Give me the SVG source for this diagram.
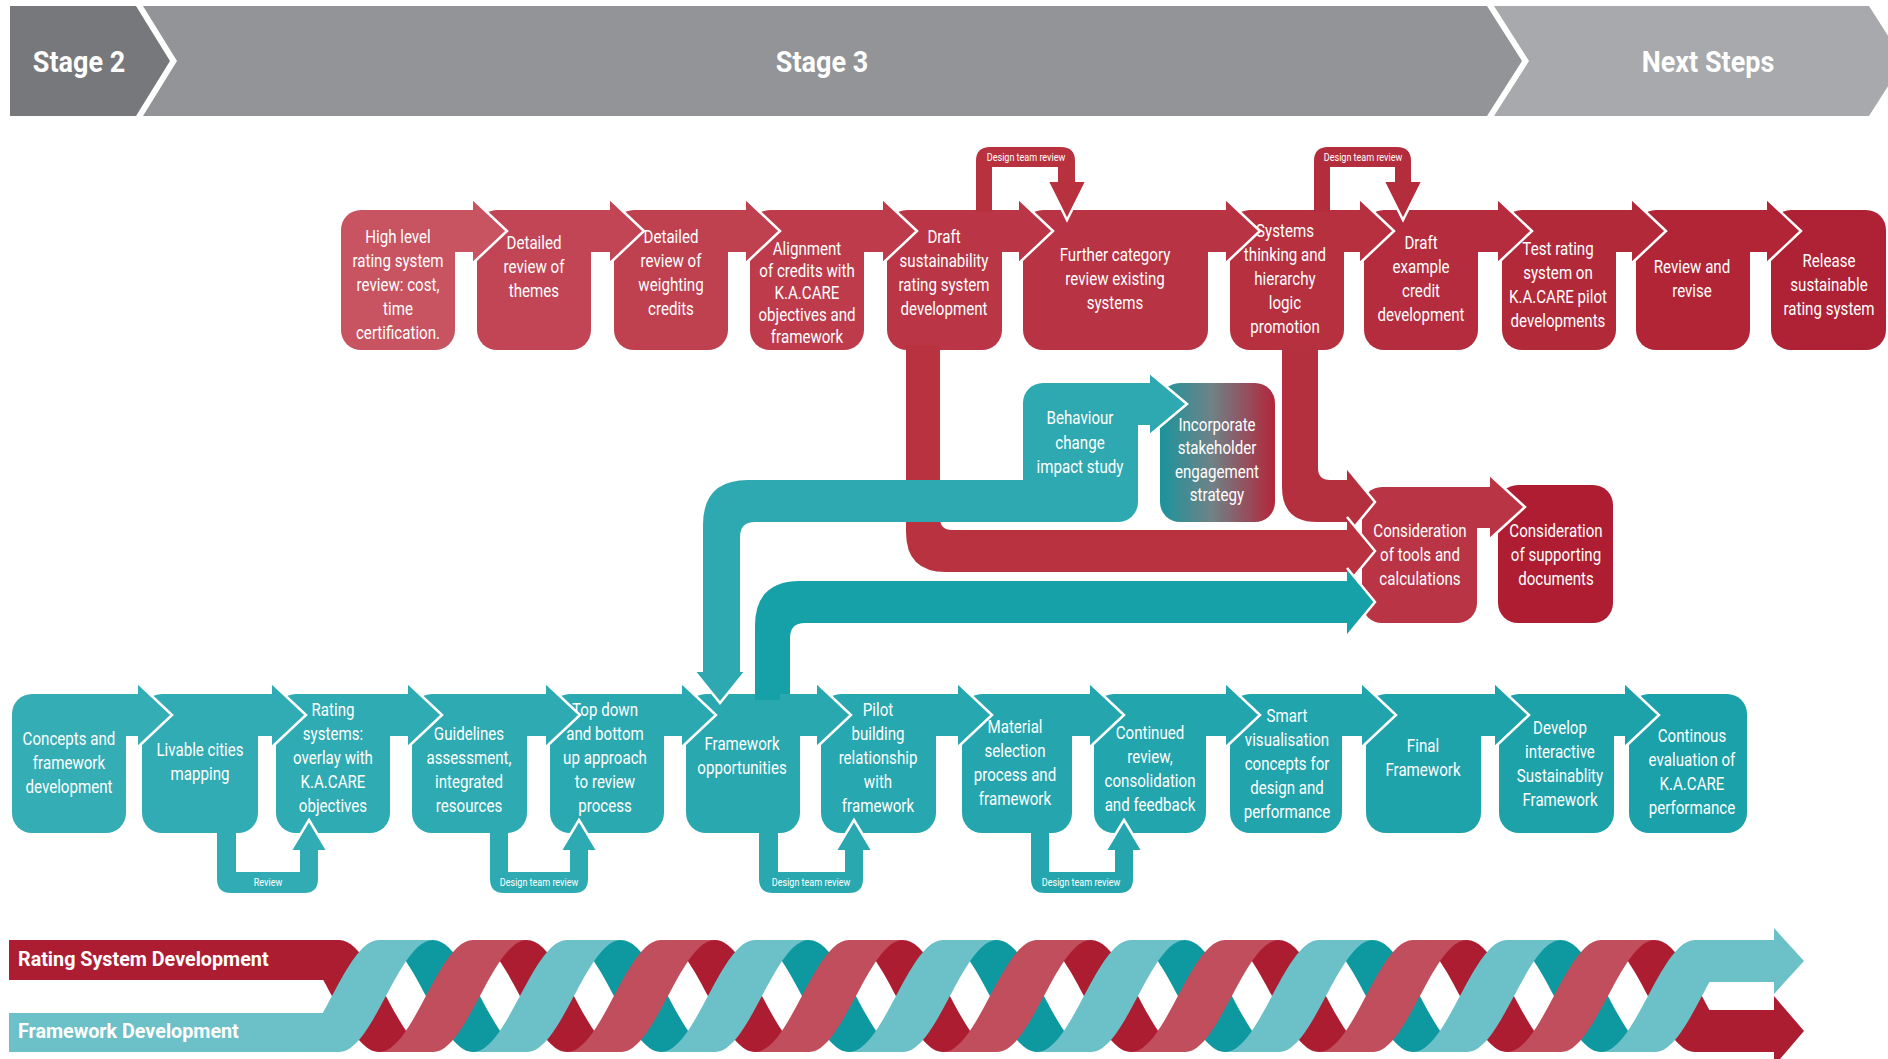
<svg xmlns="http://www.w3.org/2000/svg" width="1888" height="1059" viewBox="0 0 1888 1059">
<defs>
<style>
.t{font-family:Roboto,"Liberation Sans",Arial,sans-serif;font-size:18px;fill:#fff;text-anchor:middle}
.h{font-family:Roboto,"Liberation Sans",Arial,sans-serif;font-weight:700;font-size:30px;fill:#fff;text-anchor:middle}
.sm{font-family:Roboto,"Liberation Sans",Arial,sans-serif;font-size:10.5px;fill:#fff;text-anchor:middle}
.lg{font-family:Roboto,"Liberation Sans",Arial,sans-serif;font-weight:700;font-size:21px;fill:#fff}
.ch{fill:none;stroke:#fff;stroke-width:2.5;stroke-linejoin:miter}
.dt{fill:#0e99a1}.dr{fill:#ad1d31}.lt{fill:#6cc1c8}.pk{fill:#c14e5c}
</style>
<linearGradient id="grad-inc" x1="0" y1="0" x2="1" y2="0">
<stop offset="0" stop-color="#1a949c"/>
<stop offset="0.45" stop-color="#6f8288"/>
<stop offset="1" stop-color="#b3263a"/>
</linearGradient>
<!-- helix ribbon halves (half period 94, ribbon width 54): front rises to the right, back falls to the right -->
<path id="fs" d="M0,1052 C34.2,1052 59.8,940 94,940 H148 C113.8,940 88.2,1052 54,1052 Z"/>
<path id="bs" d="M0,940 C34.2,940 59.8,1052 94,1052 H148 C113.8,1052 88.2,940 54,940 Z"/>
</defs>

<rect width="1888" height="1059" fill="#fff"/>

<!-- stage header -->
<g id="header">
<polygon points="10,6 136,6 170,61 136,116 10,116" fill="#77787b"/>
<polygon points="143,6 1487,6 1522,61 1487,116 143,116 177,61" fill="#929497"/>
<polygon points="1494,6 1869,6 1904,61 1869,116 1494,116 1529,61" fill="#a7a9ac"/>
<text class="h" transform="translate(79 0) scale(.9 1)" x="0" y="72">Stage 2</text>
<text class="h" transform="translate(822 0) scale(.9 1)" x="0" y="72">Stage 3</text>
<text class="h" transform="translate(1708 0) scale(.9 1)" x="0" y="72">Next Steps</text>
</g>

<!-- rating system row -->
<g id="r1"><rect x="341" y="210" width="114" height="140" rx="20" fill="#c85361"/>
<text class="t" transform="translate(398 0) scale(.84 1)"><tspan x="0" y="243">High level</tspan><tspan x="0" y="267">rating system</tspan><tspan x="0" y="291">review: cost,</tspan><tspan x="0" y="315">time</tspan><tspan x="0" y="339">certification.</tspan></text></g>
<g id="r2"><rect x="477" y="210" width="114" height="140" rx="20" fill="#c24555"/>
<text class="t" transform="translate(534 0) scale(.84 1)"><tspan x="0" y="249">Detailed</tspan><tspan x="0" y="273">review of</tspan><tspan x="0" y="297">themes</tspan></text></g>
<g id="r3"><rect x="614" y="210" width="114" height="140" rx="20" fill="#bf404f"/>
<text class="t" transform="translate(671 0) scale(.84 1)"><tspan x="0" y="243">Detailed</tspan><tspan x="0" y="267">review of</tspan><tspan x="0" y="291">weighting</tspan><tspan x="0" y="315">credits</tspan></text></g>
<g id="r4"><rect x="750" y="210" width="114" height="140" rx="20" fill="#bd3b4b"/>
<text class="t" transform="translate(807 0) scale(.84 1)"><tspan x="0" y="255">Alignment</tspan><tspan x="0" y="277">of credits with</tspan><tspan x="0" y="299">K.A.CARE</tspan><tspan x="0" y="321">objectives and</tspan><tspan x="0" y="343">framework</tspan></text></g>
<g id="r5"><rect x="887" y="210" width="115" height="140" rx="20" fill="#ba3646"/>
<text class="t" transform="translate(944 0) scale(.84 1)"><tspan x="0" y="243">Draft</tspan><tspan x="0" y="267">sustainability</tspan><tspan x="0" y="291">rating system</tspan><tspan x="0" y="315">development</tspan></text></g>
<g id="r6"><rect x="1023" y="210" width="185" height="140" rx="20" fill="#b83343"/>
<text class="t" transform="translate(1115 0) scale(.84 1)"><tspan x="0" y="261">Further category</tspan><tspan x="0" y="285">review existing</tspan><tspan x="0" y="309">systems</tspan></text></g>
<g id="r7"><rect x="1230" y="210" width="114" height="140" rx="20" fill="#b63040"/>
<text class="t" transform="translate(1285 0) scale(.84 1)"><tspan x="0" y="237">Systems</tspan><tspan x="0" y="261">thinking and</tspan><tspan x="0" y="285">hierarchy</tspan><tspan x="0" y="309">logic</tspan><tspan x="0" y="333">promotion</tspan></text></g>
<g id="r8"><rect x="1364" y="210" width="114" height="140" rx="20" fill="#b42c3d"/>
<text class="t" transform="translate(1421 0) scale(.84 1)"><tspan x="0" y="249">Draft</tspan><tspan x="0" y="273">example</tspan><tspan x="0" y="297">credit</tspan><tspan x="0" y="321">development</tspan></text></g>
<g id="r9"><rect x="1502" y="210" width="114" height="140" rx="20" fill="#b2293a"/>
<text class="t" transform="translate(1558 0) scale(.84 1)"><tspan x="0" y="255">Test rating</tspan><tspan x="0" y="279">system on</tspan><tspan x="0" y="303">K.A.CARE pilot</tspan><tspan x="0" y="327">developments</tspan></text></g>
<g id="r10"><rect x="1636" y="210" width="114" height="140" rx="20" fill="#b12537"/>
<text class="t" transform="translate(1692 0) scale(.84 1)"><tspan x="0" y="273">Review and</tspan><tspan x="0" y="297">revise</tspan></text></g>
<g id="r11"><rect x="1771" y="210" width="115" height="140" rx="20" fill="#af2134"/>
<text class="t" transform="translate(1829 0) scale(.84 1)"><tspan x="0" y="267">Release</tspan><tspan x="0" y="291">sustainable</tspan><tspan x="0" y="315">rating system</tspan></text></g>

<!-- middle nodes -->
<g id="behaviour"><rect x="1023" y="383" width="115" height="139" rx="20" fill="#2ea9b1"/>
<text class="t" transform="translate(1080 0) scale(.84 1)"><tspan x="0" y="424">Behaviour</tspan><tspan x="0" y="449">change</tspan><tspan x="0" y="473">impact study</tspan></text></g>
<g id="incorporate"><rect x="1160" y="383" width="115" height="139" rx="20" fill="url(#grad-inc)"/>
<text class="t" transform="translate(1217 0) scale(.84 1)"><tspan x="0" y="431">Incorporate</tspan><tspan x="0" y="454">stakeholder</tspan><tspan x="0" y="478">engagement</tspan><tspan x="0" y="501">strategy</tspan></text></g>
<g id="tools"><rect x="1362" y="487" width="115" height="136" rx="20" fill="#b93545"/>
<text class="t" transform="translate(1420 0) scale(.84 1)"><tspan x="0" y="537">Consideration</tspan><tspan x="0" y="561">of tools and</tspan><tspan x="0" y="585">calculations</tspan></text></g>
<g id="supporting"><rect x="1498" y="485" width="115" height="138" rx="20" fill="#ae1d31"/>
<text class="t" transform="translate(1556 0) scale(.84 1)"><tspan x="0" y="537">Consideration</tspan><tspan x="0" y="561">of supporting</tspan><tspan x="0" y="585">documents</tspan></text></g>

<!-- framework row -->
<g id="f1"><rect x="12" y="694" width="114" height="139" rx="20" fill="#34adb5"/>
<text class="t" transform="translate(69 0) scale(.84 1)"><tspan x="0" y="745">Concepts and</tspan><tspan x="0" y="769">framework</tspan><tspan x="0" y="793">development</tspan></text></g>
<g id="f2"><rect x="142" y="694" width="116" height="139" rx="20" fill="#31acb4"/>
<text class="t" transform="translate(200 0) scale(.84 1)"><tspan x="0" y="756">Livable cities</tspan><tspan x="0" y="780">mapping</tspan></text></g>
<g id="f3"><rect x="276" y="694" width="114" height="139" rx="20" fill="#2fabb3"/>
<text class="t" transform="translate(333 0) scale(.84 1)"><tspan x="0" y="716">Rating</tspan><tspan x="0" y="740">systems:</tspan><tspan x="0" y="764">overlay with</tspan><tspan x="0" y="788">K.A.CARE</tspan><tspan x="0" y="812">objectives</tspan></text></g>
<g id="f4"><rect x="412" y="694" width="115" height="139" rx="20" fill="#2daab2"/>
<text class="t" transform="translate(469 0) scale(.84 1)"><tspan x="0" y="740">Guidelines</tspan><tspan x="0" y="764">assessment,</tspan><tspan x="0" y="788">integrated</tspan><tspan x="0" y="812">resources</tspan></text></g>
<g id="f5"><rect x="550" y="694" width="114" height="139" rx="20" fill="#2ba9b1"/>
<text class="t" transform="translate(605 0) scale(.84 1)"><tspan x="0" y="716">Top down</tspan><tspan x="0" y="740">and bottom</tspan><tspan x="0" y="764">up approach</tspan><tspan x="0" y="788">to review</tspan><tspan x="0" y="812">process</tspan></text></g>
<g id="f6"><rect x="686" y="694" width="114" height="139" rx="20" fill="#29a8b0"/>
<text class="t" transform="translate(742 0) scale(.84 1)"><tspan x="0" y="750">Framework</tspan><tspan x="0" y="774">opportunities</tspan></text></g>
<g id="f7"><rect x="821" y="694" width="115" height="139" rx="20" fill="#27a7af"/>
<text class="t" transform="translate(878 0) scale(.84 1)"><tspan x="0" y="716">Pilot</tspan><tspan x="0" y="740">building</tspan><tspan x="0" y="764">relationship</tspan><tspan x="0" y="788">with</tspan><tspan x="0" y="812">framework</tspan></text></g>
<g id="f8"><rect x="962" y="694" width="110" height="139" rx="20" fill="#25a6ae"/>
<text class="t" transform="translate(1015 0) scale(.84 1)"><tspan x="0" y="733">Material</tspan><tspan x="0" y="757">selection</tspan><tspan x="0" y="781">process and</tspan><tspan x="0" y="805">framework</tspan></text></g>
<g id="f9"><rect x="1094" y="694" width="112" height="139" rx="20" fill="#23a5ad"/>
<text class="t" transform="translate(1150 0) scale(.84 1)"><tspan x="0" y="739">Continued</tspan><tspan x="0" y="763">review,</tspan><tspan x="0" y="787">consolidation</tspan><tspan x="0" y="811">and feedback</tspan></text></g>
<g id="f10"><rect x="1230" y="694" width="112" height="139" rx="20" fill="#21a4ac"/>
<text class="t" transform="translate(1287 0) scale(.84 1)"><tspan x="0" y="722">Smart</tspan><tspan x="0" y="746">visualisation</tspan><tspan x="0" y="770">concepts for</tspan><tspan x="0" y="794">design and</tspan><tspan x="0" y="818">performance</tspan></text></g>
<g id="f11"><rect x="1366" y="694" width="115" height="139" rx="20" fill="#1fa3ab"/>
<text class="t" transform="translate(1423 0) scale(.84 1)"><tspan x="0" y="752">Final</tspan><tspan x="0" y="776">Framework</tspan></text></g>
<g id="f12"><rect x="1499" y="694" width="115" height="139" rx="20" fill="#1da2aa"/>
<text class="t" transform="translate(1560 0) scale(.84 1)"><tspan x="0" y="734">Develop</tspan><tspan x="0" y="758">interactive</tspan><tspan x="0" y="782">Sustainablity</tspan><tspan x="0" y="806">Framework</tspan></text></g>
<g id="f13"><rect x="1629" y="694" width="118" height="139" rx="20" fill="#1ba1a9"/>
<text class="t" transform="translate(1692 0) scale(.84 1)"><tspan x="0" y="742">Continous</tspan><tspan x="0" y="766">evaluation of</tspan><tspan x="0" y="790">K.A.CARE</tspan><tspan x="0" y="814">performance</tspan></text></g>

<g id="connectors">
<!-- step arrows, rating system row -->
<path d="M435,210 H473 V199 L507,231 L473,263 V252 H449 V224 H435 Z" fill="#c85361"/>
<path d="M571,210 H610 V199 L644,231 L610,263 V252 H585 V224 H571 Z" fill="#c24555"/>
<path d="M708,210 H746 V199 L780,231 L746,263 V252 H722 V224 H708 Z" fill="#bf404f"/>
<path d="M844,210 H883 V199 L917,231 L883,263 V252 H858 V224 H844 Z" fill="#bd3b4b"/>
<path d="M982,210 H1019 V199 L1053,231 L1019,263 V252 H996 V224 H982 Z" fill="#ba3646"/>
<path d="M1188,210 H1226 V199 L1260,231 L1226,263 V252 H1202 V224 H1188 Z" fill="#b83343"/>
<path d="M1324,210 H1360 V199 L1394,231 L1360,263 V252 H1338 V224 H1324 Z" fill="#b63040"/>
<path d="M1458,210 H1498 V199 L1532,231 L1498,263 V252 H1472 V224 H1458 Z" fill="#b42c3d"/>
<path d="M1596,210 H1632 V199 L1666,231 L1632,263 V252 H1610 V224 H1596 Z" fill="#b2293a"/>
<path d="M1730,210 H1767 V199 L1801,231 L1767,263 V252 H1744 V224 H1730 Z" fill="#b12537"/>
<polyline class="ch" points="473,199 507,231 473,263"/>
<polyline class="ch" points="610,199 644,231 610,263"/>
<polyline class="ch" points="746,199 780,231 746,263"/>
<polyline class="ch" points="883,199 917,231 883,263"/>
<polyline class="ch" points="1019,199 1053,231 1019,263"/>
<polyline class="ch" points="1226,199 1260,231 1226,263"/>
<polyline class="ch" points="1360,199 1394,231 1360,263"/>
<polyline class="ch" points="1498,199 1532,231 1498,263"/>
<polyline class="ch" points="1632,199 1666,231 1632,263"/>
<polyline class="ch" points="1767,199 1801,231 1767,263"/>

<!-- review loops above the rating system row -->
<path d="M976,212 V161 Q976,147 990,147 H1061 Q1075,147 1075,161 V182 H1085 L1067,220 L1048,182 H1058 V167 H992 V212 Z" fill="#b8313f"/>
<polyline class="ch" points="1048,182 1067,220 1086,182"/>
<text class="sm" transform="translate(1026 0) scale(.86 1)" x="0" y="161">Design team review</text>
<path d="M1314,212 V161 Q1314,147 1328,147 H1397 Q1411,147 1411,161 V182 H1422 L1403,220 L1384,182 H1395 V167 H1330 V212 Z" fill="#b42d3c"/>
<polyline class="ch" points="1384,182 1403,220 1422,182"/>
<text class="sm" transform="translate(1363 0) scale(.86 1)" x="0" y="161">Design team review</text>

<!-- behaviour and tools step arrows -->
<path d="M1118,383 H1150 V373 L1187,404 L1150,435 V425 H1132 V397 H1118 Z" fill="#2ea9b1"/>
<polyline class="ch" points="1150,373 1187,404 1150,435"/>
<path d="M1457,487 H1490 V475 L1525,507 L1490,539 V528 H1471 V501 H1457 Z" fill="#b93545"/>
<polyline class="ch" points="1490,475 1525,507 1490,539"/>

<!-- links between the two streams -->
<path d="M1282,345 V487 Q1282,522 1317,522 H1347 V536 L1375,502 L1347,468 V480 H1330 Q1318,480 1318,468 V345 Z" fill="#b5303f"/>
<polyline class="ch" points="1347,468 1375,502 1347,536"/>
<path d="M906,345 V532 Q906,572 946,572 H1347 V585 L1375,551 L1347,517 V530 H952 Q940,530 940,518 V345 Z" fill="#b8333f"/>
<polyline class="ch" points="1347,517 1375,551 1347,585"/>
<path d="M1060,480 H748 Q703,480 703,525 V672 H695 L720,703 L745,672 H740 V537 Q740,522 755,522 H1060 Z" fill="#2ea9b1"/>
<polyline class="ch" points="695,672 720,703 745,672"/>
<path d="M755,700 V626 Q755,581 800,581 H1347 V568 L1375,602 L1347,636 V623 H805 Q790,623 790,638 V700 Z" fill="#16a0a8"/>
<polyline class="ch" points="1347,568 1375,602 1347,636"/>

<!-- step arrows, framework row -->
<path d="M106,694 H138 V683 L172,715 L138,747 V736 H120 V708 H106 Z" fill="#34adb5"/>
<path d="M238,694 H272 V683 L306,715 L272,747 V736 H252 V708 H238 Z" fill="#31acb4"/>
<path d="M370,694 H408 V683 L442,715 L408,747 V736 H384 V708 H370 Z" fill="#2fabb3"/>
<path d="M507,694 H546 V683 L580,715 L546,747 V736 H521 V708 H507 Z" fill="#2daab2"/>
<path d="M644,694 H682 V683 L716,715 L682,747 V736 H658 V708 H644 Z" fill="#2ba9b1"/>
<path d="M780,694 H817 V683 L851,715 L817,747 V736 H794 V708 H780 Z" fill="#29a8b0"/>
<path d="M916,694 H958 V683 L992,715 L958,747 V736 H930 V708 H916 Z" fill="#27a7af"/>
<path d="M1052,694 H1090 V683 L1124,715 L1090,747 V736 H1066 V708 H1052 Z" fill="#25a6ae"/>
<path d="M1186,694 H1226 V683 L1260,715 L1226,747 V736 H1200 V708 H1186 Z" fill="#23a5ad"/>
<path d="M1322,694 H1362 V683 L1396,715 L1362,747 V736 H1336 V708 H1322 Z" fill="#21a4ac"/>
<path d="M1461,694 H1495 V683 L1529,715 L1495,747 V736 H1475 V708 H1461 Z" fill="#1fa3ab"/>
<path d="M1594,694 H1625 V683 L1659,715 L1625,747 V736 H1608 V708 H1594 Z" fill="#1da2aa"/>
<polyline class="ch" points="138,683 172,715 138,747"/>
<polyline class="ch" points="272,683 306,715 272,747"/>
<polyline class="ch" points="408,683 442,715 408,747"/>
<polyline class="ch" points="546,683 580,715 546,747"/>
<polyline class="ch" points="682,683 716,715 682,747"/>
<polyline class="ch" points="817,683 851,715 817,747"/>
<polyline class="ch" points="958,683 992,715 958,747"/>
<polyline class="ch" points="1090,683 1124,715 1090,747"/>
<polyline class="ch" points="1226,683 1260,715 1226,747"/>
<polyline class="ch" points="1362,683 1396,715 1362,747"/>
<polyline class="ch" points="1495,683 1529,715 1495,747"/>
<polyline class="ch" points="1625,683 1659,715 1625,747"/>

<!-- review loops below the framework row -->
<path d="M217,830 V879 Q217,893 231,893 H304 Q318,893 318,879 V850 H327 L309,820 L291,850 H300 V872 H236 V830 Z" fill="#31acb4"/>
<polyline class="ch" points="291,850 309,820 327,850"/>
<text class="sm" transform="translate(268 0) scale(.86 1)" x="0" y="886">Review</text>
<path d="M490,830 V879 Q490,893 504,893 H574 Q588,893 588,879 V850 H597 L579,820 L561,850 H570 V872 H508 V830 Z" fill="#2daab2"/>
<polyline class="ch" points="561,850 579,820 597,850"/>
<text class="sm" transform="translate(539 0) scale(.86 1)" x="0" y="886">Design team review</text>
<path d="M759,830 V879 Q759,893 773,893 H849 Q863,893 863,879 V850 H872 L854,820 L836,850 H845 V872 H778 V830 Z" fill="#29a8b0"/>
<polyline class="ch" points="836,850 854,820 872,850"/>
<text class="sm" transform="translate(811 0) scale(.86 1)" x="0" y="886">Design team review</text>
<path d="M1031,830 V879 Q1031,893 1045,893 H1119 Q1133,893 1133,879 V850 H1142 L1124,820 L1106,850 H1115 V872 H1049 V830 Z" fill="#25a6ae"/>
<polyline class="ch" points="1106,850 1124,820 1142,850"/>
<text class="sm" transform="translate(1081 0) scale(.86 1)" x="0" y="886">Design team review</text>
</g>

<!-- intertwined development streams -->
<g id="helix">
<use href="#bs" x="285" class="dr"/>
<use href="#bs" x="379" class="dt"/>
<use href="#bs" x="473" class="dr"/>
<use href="#bs" x="567" class="dt"/>
<use href="#bs" x="661" class="dr"/>
<use href="#bs" x="755" class="dt"/>
<use href="#bs" x="849" class="dr"/>
<use href="#bs" x="943" class="dt"/>
<use href="#bs" x="1037" class="dr"/>
<use href="#bs" x="1131" class="dt"/>
<use href="#bs" x="1225" class="dr"/>
<use href="#bs" x="1319" class="dt"/>
<use href="#bs" x="1413" class="dr"/>
<use href="#bs" x="1507" class="dt"/>
<use href="#bs" x="1601" class="dr"/>
<rect x="9" y="940" width="316" height="40" class="dr"/>
<path d="M1700,1010 H1774 V996 L1804,1031 L1774,1066 V1052 H1700 Z" class="dr"/>
<rect x="9" y="1013" width="316" height="39" class="lt"/>
<use href="#fs" x="285" class="lt"/>
<use href="#fs" x="379" class="pk"/>
<use href="#fs" x="473" class="lt"/>
<use href="#fs" x="567" class="pk"/>
<use href="#fs" x="661" class="lt"/>
<use href="#fs" x="755" class="pk"/>
<use href="#fs" x="849" class="lt"/>
<use href="#fs" x="943" class="pk"/>
<use href="#fs" x="1037" class="lt"/>
<use href="#fs" x="1131" class="pk"/>
<use href="#fs" x="1225" class="lt"/>
<use href="#fs" x="1319" class="pk"/>
<use href="#fs" x="1413" class="lt"/>
<use href="#fs" x="1507" class="pk"/>
<use href="#fs" x="1601" class="lt"/>
<path d="M1695,940 H1774 V928 L1804,961 L1774,994 V982 H1695 Z" class="lt"/>
<text class="lg" transform="translate(18 0) scale(.94 1)" x="0" y="966">Rating System Development</text>
<text class="lg" transform="translate(18 0) scale(.94 1)" x="0" y="1038">Framework Development</text>
</g>
</svg>
